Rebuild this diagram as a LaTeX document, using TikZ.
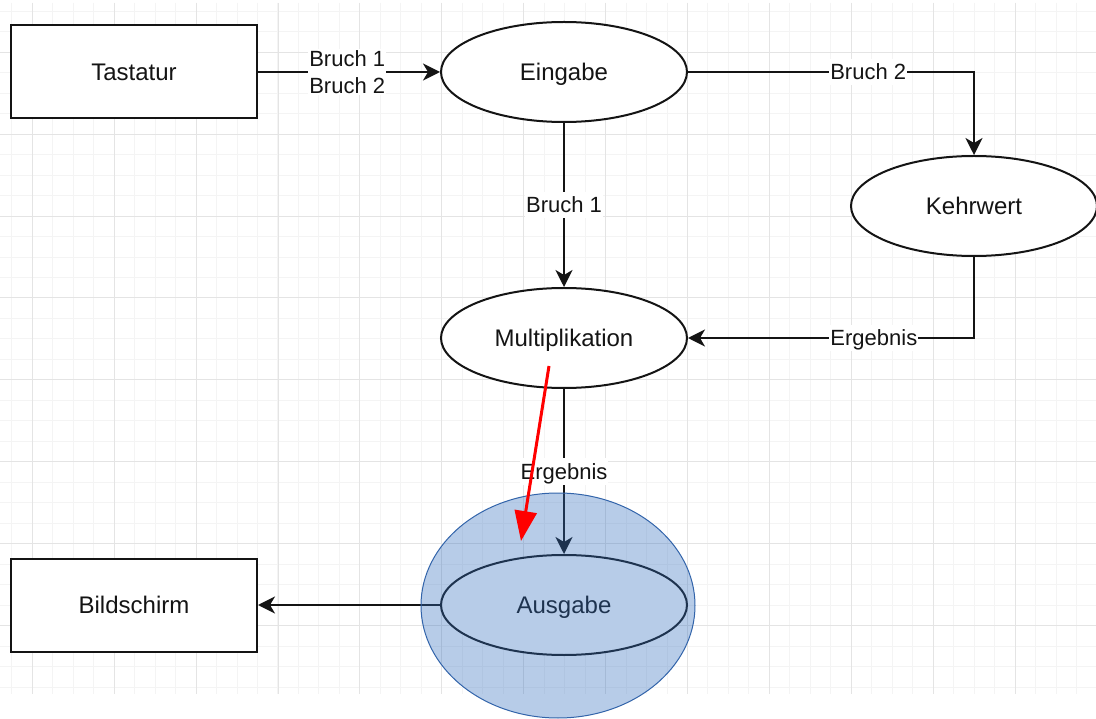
\documentclass[tikz,border=0pt]{standalone}
\usepackage{fontspec}
\setmainfont{Liberation Sans}
\usetikzlibrary{arrows.meta,shapes.geometric}
\definecolor{gridminor}{RGB}{244,244,244}
\definecolor{gridmajor}{RGB}{228,228,228}
\definecolor{ink}{RGB}{20,20,20}
\definecolor{hlfill}{RGB}{50,110,190}
\definecolor{hldraw}{RGB}{50,100,170}
\tikzset{
  minor/.style={gridminor, line width=1pt},
  major/.style={gridmajor, line width=1pt},
  boxnode/.style={draw=ink, line width=2pt, fill=white, minimum width=246pt, minimum height=93pt, inner sep=0pt, font=\fontsize{24}{28}\selectfont, text=ink, text height=22.2pt, text depth=5pt},
  ellnode/.style={ellipse, draw=ink, line width=2pt, fill=white, minimum width=246pt, minimum height=100pt, inner sep=0pt, font=\fontsize{24}{28}\selectfont, text=ink, text height=22.2pt, text depth=5pt},
  flow/.style={draw=ink, line width=2pt, -{Stealth[length=17pt, width=17pt, inset=5pt]}},
  lbl/.style={fill=white, inner xsep=1pt, inner ysep=1pt, font=\fontsize{22}{27}\selectfont, text=ink, text height=20.3pt, text depth=4.5pt},
  lbltwo/.style={fill=white, inner sep=1pt, font=\fontsize{22}{27}\selectfont, text=ink, align=center},
  highlight/.style={ellipse, draw=hldraw, line width=1pt, fill=hlfill, fill opacity=0.35, draw opacity=1, minimum width=274pt, minimum height=225pt, inner sep=0pt},
  redarrow/.style={draw=red, line width=3pt, -{Triangle[length=30pt, width=22pt]}}
}
\begin{document}
\begin{tikzpicture}[x=1pt, y=-1pt]
\useasboundingbox (0,0) rectangle (1096,719);
\fill[white] (0,0) rectangle (1096,719);
% grid
\begin{scope}
\clip (0,3) rectangle (1096,694);
\foreach \i in {0,...,53} \draw[minor] ({11.8+20.475*\i},3) -- ({11.8+20.475*\i},694);
\foreach \i in {0,...,34} \draw[minor] (0,{11.35+20.475*\i}) -- (1096,{11.35+20.475*\i});
\foreach \j in {0,...,12} \draw[major] ({32.3+81.9*\j},3) -- ({32.3+81.9*\j},694);
\foreach \j in {0,...,7} \draw[major] (0,{52.3+81.9*\j}) -- (1096,{52.3+81.9*\j});
\end{scope}
% nodes
\node[boxnode] (tastatur) at (134,72) {Tastatur};
\node[boxnode] (bildschirm) at (134,605) {Bildschirm};
\node[ellnode] (eingabe) at (564,72) {Eingabe};
\node[ellnode] (kehrwert) at (974,206) {Kehrwert};
\node[ellnode] (multi) at (564,338) {Multiplikation};
\node[ellnode] (ausgabe) at (564,605) {Ausgabe};
\coordinate (c1) at (kehrwert.north |- eingabe.east);
\coordinate (c2) at (kehrwert.south |- multi.east);
% connectors
\draw[flow] (tastatur.east) -- node[lbltwo, pos=0.49] {Bruch 1\\Bruch 2} (eingabe.west);
\draw[flow] (eingabe.east) -- node[lbl, pos=0.63] {Bruch 2} (c1) -- (kehrwert.north);
\draw[flow] (kehrwert.south) -- (c2) -- node[lbl, pos=0.35] {Ergebnis} (multi.east);
\draw[flow] (eingabe.south) -- node[lbl, pos=0.5] {Bruch 1} (multi.north);
\draw[flow] (multi.south) -- node[lbl, pos=0.5] {Ergebnis} (ausgabe.north);
\draw[flow] (ausgabe.west) -- (bildschirm.east);
% highlight
\node[highlight] (hl) at (558,605.5) {};
\coordinate (rs) at (549,366);
\coordinate (re) at (521,541);
\draw[redarrow] (rs) -- (re);
\end{tikzpicture}
\end{document}
